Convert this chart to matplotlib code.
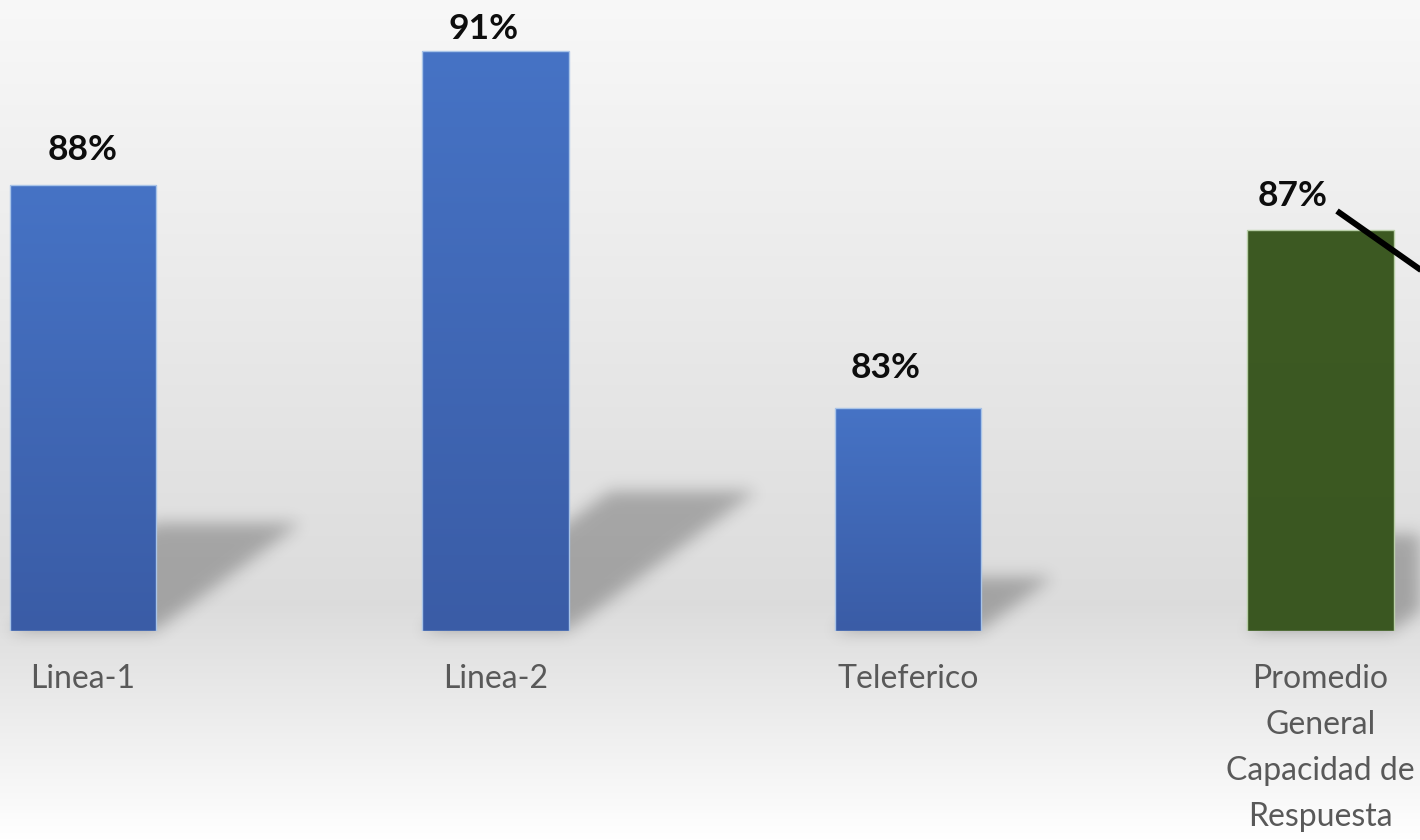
import numpy as np
import matplotlib
matplotlib.use("Agg")
import matplotlib.pyplot as plt
from matplotlib.lines import Line2D

# --- data -------------------------------------------------------------
categories = ["Linea-1", "Linea-2", "Teleferico",
              "Promedio\nGeneral\nCapacidad de\nRespuesta"]
values = [88, 91, 83, 87]
value_labels = ["88%", "91%", "83%", "87%"]

# --- style ------------------------------------------------------------
bar_top_colors = ["#4673c5", "#4673c5", "#4673c5", "#3d5a23"]
bar_bot_colors = ["#3a5ca6", "#3a5ca6", "#3a5ca6", "#3a5721"]
edge_colors = ["#a9c4e8", "#a9c4e8", "#a9c4e8", "#b9cfa8"]
label_dx_px = [0, -12, -22, -28]
label_dy_px = [25, 12, 30, 24]
FONT = ["Lato", "DejaVu Sans"]

W, H, DPI = 1420, 840, 100
fig = plt.figure(figsize=(W / DPI, H / DPI), dpi=DPI)

# background gradient (light top, grey middle, white bottom)
bg = fig.add_axes([0, 0, 1, 1], zorder=0)
bg.set_xlim(0, W)
bg.set_ylim(0, H)
bg.axis("off")
yy = np.linspace(1, 0, H)  # 1 = top
stops_pos = [0.0, 0.28, 1.0]      # fraction from bottom
stops_val = [1.0, 0.862, 0.972]
col = np.interp(yy, stops_pos, stops_val)
grad = np.repeat(col[::-1][:, None], W, axis=1)  # row 0 = bottom
bg.imshow(np.dstack([grad] * 3), origin="lower", extent=(0, W, 0, H),
          aspect="auto", interpolation="bilinear")

# main axes
base_px = 209
ax = fig.add_axes([0, base_px / H, 1, (H - base_px) / H], zorder=2)
ax.patch.set_alpha(0)
x = np.arange(len(categories))
ax.set_xlim(-0.2012, 3.2412)
ax.set_ylim(78, 92.15)
for s in ax.spines.values():
    s.set_visible(False)
ax.set_yticks([])
ax.set_xticks(x)
ax.set_xticklabels(categories, fontsize=23, color="#595959",
                   family=FONT, linespacing=1.66)
ax.tick_params(axis="x", length=0, pad=24)

bar_width = 0.354
bars = ax.bar(x, [v - 78 for v in values], bottom=78, width=bar_width,
              color="none", edgecolor="none", zorder=3)

# vertical gradient fill for each bar
for b, ct, cb, ec in zip(bars, bar_top_colors, bar_bot_colors, edge_colors):
    x0, y0 = b.get_x(), b.get_y()
    x1, y1 = x0 + b.get_width(), y0 + b.get_height()
    c_top = np.array(matplotlib.colors.to_rgb(ct))
    c_bot = np.array(matplotlib.colors.to_rgb(cb))
    t = np.linspace(0, 1, 256)[:, None]
    img = (c_bot * (1 - t) + c_top * t)[:, None, :]
    im = ax.imshow(img, origin="lower", extent=(x0, x1, y0, y1),
                   aspect="auto", zorder=3, interpolation="bilinear")
    im.set_clip_path(b)
    b.set_edgecolor(ec)
    b.set_linewidth(1.0)
    b.set_zorder(4)

ax.set_xlim(-0.2012, 3.2412)
ax.set_ylim(78, 92.15)

# value labels
for xi, v, lab, dx, dy in zip(x, values, value_labels, label_dx_px, label_dy_px):
    ax.annotate(lab, (xi, v), xytext=(dx * 0.72, dy * 0.72),
                textcoords="offset points", ha="center", va="baseline",
                fontsize=25.5, fontweight="bold", color="#0d0d0d",
                family=FONT, zorder=6)

# soft perspective shadows behind the bars
fig.canvas.draw()
mask = np.zeros((H, W))
for b in bars:
    (L, B), (R, T) = ax.transData.transform(
        [(b.get_x(), b.get_y()), (b.get_x() + b.get_width(), b.get_y() + b.get_height())])
    sh = 0.24 * (T - B)
    skew = 1.35
    for r in range(int(B), int(B + sh) + 1):
        d = (r - B) * skew
        lo, hi = int(L + d), int(R + d)
        lo, hi = max(lo, 0), min(hi, W)
        if lo < hi:
            mask[r, lo:hi] = 1.0

sigma = 8
k = np.arange(-3 * sigma, 3 * sigma + 1)
kern = np.exp(-0.5 * (k / sigma) ** 2)
kern /= kern.sum()
mask = np.apply_along_axis(lambda m: np.convolve(m, kern, mode="same"), 1, mask)
mask = np.apply_along_axis(lambda m: np.convolve(m, kern, mode="same"), 0, mask)
shadow = np.zeros((H, W, 4))
shadow[..., 3] = 0.26 * mask
bg.imshow(shadow, origin="lower", extent=(0, W, 0, H), aspect="auto",
          interpolation="bilinear", zorder=1)
bg.set_xlim(0, W)
bg.set_ylim(0, H)

# leader line from the average label
fig.add_artist(Line2D([1337 / W, 1445 / W], [1 - 211 / H, 1 - 287 / H],
                      color="black", linewidth=4.3, transform=fig.transFigure,
                      zorder=7, solid_capstyle="butt"))

fig.savefig("out.png", dpi=DPI)
